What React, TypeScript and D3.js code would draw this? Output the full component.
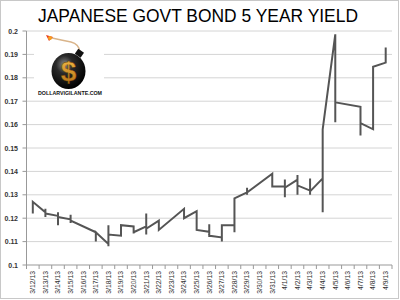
import React from "react";
import * as d3 from "d3";

const dates = ["3/12/13","3/13/13","3/14/13","3/15/13","3/16/13","3/17/13","3/18/13","3/19/13","3/20/13","3/21/13","3/22/13","3/23/13","3/24/13","3/25/13","3/26/13","3/27/13","3/28/13","3/29/13","3/30/13","3/31/13","4/1/13","4/2/13","4/3/13","4/4/13","4/5/13","4/6/13","4/7/13","4/8/13","4/9/13"];
// trading observations: date, open (entry), high, low, close (exit)
const obsDates = ["3/12/13","3/13/13","3/14/13","3/15/13","3/17/13","3/18/13","3/19/13","3/20/13","3/21/13","3/22/13","3/24/13","3/25/13","3/26/13","3/27/13","3/28/13","3/29/13","3/31/13","4/1/13","4/2/13","4/3/13","4/4/13","4/5/13","4/7/13","4/8/13","4/9/13"];
const opens  = [0.127, 0.1225, 0.121, 0.1195, 0.114, 0.109, 0.1125, 0.1165, 0.1165, 0.119, 0.124, 0.123, 0.1142, 0.1118, 0.117, 0.131, 0.139, 0.1335, 0.1365, 0.1318, 0.137, 0.1986, 0.1676, 0.158, 0.1865];
const highs  = [0.127, 0.124, 0.1225, 0.1215, 0.114, 0.117, 0.117, 0.1165, 0.122, 0.119, 0.124, 0.123, 0.1174, 0.117, 0.1285, 0.133, 0.139, 0.1365, 0.1385, 0.137, 0.158, 0.1986, 0.1676, 0.1847, 0.1929];
const lows   = [0.122, 0.1205, 0.117, 0.118, 0.110, 0.108, 0.1125, 0.1135, 0.113, 0.115, 0.120, 0.115, 0.112, 0.110, 0.114, 0.130, 0.1335, 0.129, 0.130, 0.130, 0.1225, 0.161, 0.1553, 0.158, 0.1865];
const closes = [0.127, 0.122, 0.1205, 0.119, 0.114, 0.113, 0.117, 0.114, 0.1155, 0.115, 0.120, 0.115, 0.1125, 0.117, 0.1285, 0.131, 0.1335, 0.133, 0.134, 0.1315, 0.158, 0.1695, 0.1606, 0.1847, 0.1929];
const yTicks = [0.1, 0.11, 0.12, 0.13, 0.14, 0.15, 0.16, 0.17, 0.18, 0.19, 0.2];
const yTickLabels = ["0.1","0.11","0.12","0.13","0.14","0.15","0.16","0.17","0.18","0.19","0.2"];
const title = "JAPANESE GOVT BOND 5 YEAR YIELD";

export default function App() {
  const W = 400, H = 300;
  const left = 26.5, right = 392, top = 31, bottom = 265;
  const x = d3.scaleBand<string>().domain(dates).range([left, right]).padding(0);
  const y = d3.scaleLinear().domain([0.1, 0.2]).range([bottom, top]);
  const cx = (d: string) => (x(d) as number) + x.bandwidth() / 2;

  const pts: [number, number][] = [];
  obsDates.forEach((d, i) => {
    const px = cx(d);
    pts.push([px, y(opens[i])]);
    pts.push([px, y(highs[i])]);
    pts.push([px, y(lows[i])]);
    pts.push([px, y(closes[i])]);
  });
  const line = d3.line<[number, number]>().x(p => p[0]).y(p => p[1]);

  const boundaries = dates.map(d => x(d) as number).concat([right]);
  const font = "'Liberation Sans', Arial, sans-serif";

  return (
    <svg width={W} height={H} style={{ position: "absolute", left: 0, top: 0 }}>
      <defs>
        <radialGradient id="bomb" cx="0.38" cy="0.32" r="0.7">
          <stop offset="0" stopColor="#8a8a8a" />
          <stop offset="0.35" stopColor="#2a2a2a" />
          <stop offset="1" stopColor="#000" />
        </radialGradient>
        <linearGradient id="gold" x1="0" y1="0" x2="0" y2="1">
          <stop offset="0" stopColor="#f7c14a" />
          <stop offset="1" stopColor="#b06a10" />
        </linearGradient>
      </defs>
      <rect x={0.5} y={0.5} width={W - 2} height={H - 2} fill="#fff" stroke="#c8c8c8" />
      <text x={198} y={22} textAnchor="middle" fontFamily={font} fontSize={18.5} textLength={320} lengthAdjust="spacingAndGlyphs" fill="#000">{title}</text>

      {yTicks.map((t, i) => (
        <g key={t}>
          {i > 0 && <line x1={left} x2={right} y1={y(t)} y2={y(t)} stroke="#d4d4d4" strokeWidth={1} />}
          <line x1={left - 4} x2={left} y1={y(t)} y2={y(t)} stroke="#999" />
          <text x={18} y={y(t) + 2.5} textAnchor="end" fontFamily={font} fontSize={7} fontWeight="bold" fill="#333">{yTickLabels[i]}</text>
        </g>
      ))}
      <line x1={left} x2={left} y1={top} y2={bottom} stroke="#999" />
      <line x1={left} x2={right} y1={bottom} y2={bottom} stroke="#999" />
      {boundaries.map((b, i) => (
        <line key={i} x1={b} x2={b} y1={bottom} y2={bottom + 4} stroke="#999" />
      ))}
      {dates.map(d => (
        <text key={d} transform={`translate(${cx(d) + 2.4},${bottom + 6}) rotate(-90)`} textAnchor="end" fontFamily={font} fontSize={6.8} fill="#333">{d}</text>
      ))}

      {/* logo */}
      <g>
        <rect x={34} y={35} width={70} height={63} fill="#fff" />
        <path d="M80,52 Q79,44 71,42 Q61,40 52,38" fill="none" stroke="#d9b48a" strokeWidth={1.3} />
        <path d="M46,35 L53,37 L49,41 Z" fill="#e83a1a" />
        <circle cx={50} cy={38} r={2} fill="#f7a020" />
        <rect x={76} y={50} width={7} height={6} fill="#111" transform="rotate(35,79,53)" />
        <ellipse cx={68.5} cy={71} rx={17} ry={18} fill="url(#bomb)" />
        <text x={68.5} y={81} textAnchor="middle" fontFamily={font} fontSize={28} fontWeight="bold" fill="url(#gold)" stroke="#6a3a05" strokeWidth={0.4}>$</text>
        <text x={70} y={95} textAnchor="middle" fontFamily={font} fontSize={5.6} fontWeight="bold" fill="#111" textLength={64} lengthAdjust="spacingAndGlyphs">DOLLARVIGILANTE.COM</text>
      </g>

      <path d={line(pts) || ""} fill="none" stroke="#555" strokeWidth={2} strokeLinejoin="miter" />
    </svg>
  );
}
